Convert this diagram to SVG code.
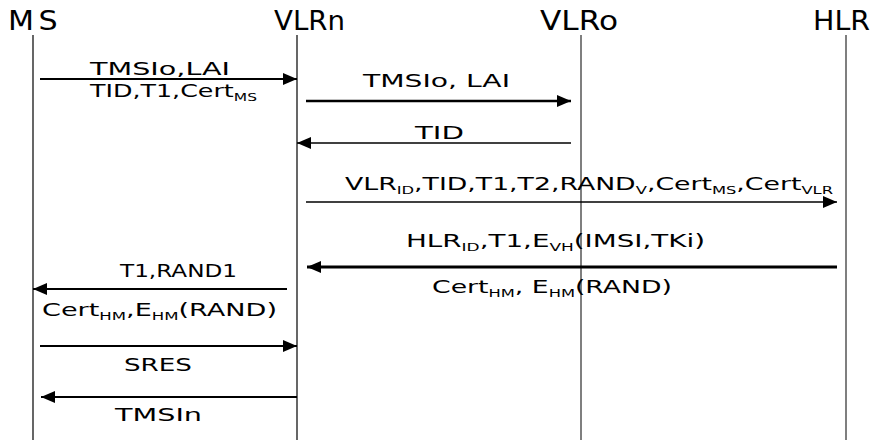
<svg xmlns="http://www.w3.org/2000/svg" width="885" height="440" viewBox="0 0 885 440">
<style>
.hdr{font-family:"DejaVu Sans","Liberation Sans",sans-serif;font-size:27px;fill:#000}
.lbl{font-family:"DejaVu Sans","Liberation Sans",sans-serif;font-size:18px;fill:#000}
.sub{font-size:11px}
.life{stroke:#000;stroke-width:1.2}
.life2{stroke:#555;stroke-width:1.5}
.msg{stroke:#000;stroke-width:2;fill:none;marker-end:url(#ah)}
</style>
<defs>
<marker id="ah" markerUnits="userSpaceOnUse" markerWidth="14" markerHeight="12" refX="14" refY="6" orient="auto">
<path d="M0,0 L14,6 L0,12 z" fill="#000"/>
</marker>
</defs>
<rect width="885" height="440" fill="#fff"/>
<g id="MS">
<text class="hdr" x="8" y="30" textLength="54" lengthAdjust="spacingAndGlyphs" letter-spacing="4">MS</text>
<line class="life" x1="33" y1="35" x2="33" y2="440"/>
</g>
<g id="VLRn">
<text class="hdr" x="274" y="30" textLength="71" lengthAdjust="spacingAndGlyphs">VLRn</text>
<line class="life" x1="297" y1="35" x2="297" y2="440"/>
</g>
<g id="VLRo">
<text class="hdr" x="540" y="30" textLength="78" lengthAdjust="spacingAndGlyphs">VLRo</text>
<line class="life2" x1="581" y1="35" x2="581" y2="440"/>
</g>
<g id="HLR">
<text class="hdr" x="813" y="30" textLength="57" lengthAdjust="spacingAndGlyphs">HLR</text>
<line class="life2" x1="846" y1="35" x2="846" y2="440"/>
</g>
<g id="connectors">
<line class="msg" x1="40" y1="79" x2="297" y2="79"/>
<line class="msg" x1="306" y1="101" x2="571" y2="101" style="stroke-width:2.5"/>
<line class="msg" x1="571" y1="143" x2="297" y2="143" style="stroke-width:1.6"/>
<line class="msg" x1="306" y1="202" x2="837" y2="202" style="stroke-width:1.6"/>
<line class="msg" x1="837" y1="267" x2="307" y2="267" style="stroke-width:3"/>
<line class="msg" x1="287" y1="289" x2="33" y2="289"/>
<line class="msg" x1="40" y1="346" x2="297" y2="346"/>
<line class="msg" x1="297" y1="397" x2="41" y2="397"/>
</g>
<g id="labels">
<text class="lbl" x="90" y="75" textLength="140" lengthAdjust="spacingAndGlyphs">TMSIo,LAI</text>
<text class="lbl" x="90" y="97" textLength="167" lengthAdjust="spacingAndGlyphs">TID,T1,Cert<tspan class="sub" dy="4">MS</tspan></text>
<text class="lbl" x="363" y="87" textLength="147" lengthAdjust="spacingAndGlyphs">TMSIo, LAI</text>
<text class="lbl" x="415" y="139" textLength="49" lengthAdjust="spacingAndGlyphs">TID</text>
<text class="lbl" x="345" y="190" textLength="488" lengthAdjust="spacingAndGlyphs">VLR<tspan class="sub" dy="4">ID</tspan><tspan dy="-4">,TID,T1,T2,RAND</tspan><tspan class="sub" dy="4">V</tspan><tspan dy="-4">,Cert</tspan><tspan class="sub" dy="4">MS</tspan><tspan dy="-4">,Cert</tspan><tspan class="sub" dy="4">VLR</tspan></text>
<text class="lbl" x="406" y="247" textLength="299" lengthAdjust="spacingAndGlyphs">HLR<tspan class="sub" dy="4">ID</tspan><tspan dy="-4">,T1,E</tspan><tspan class="sub" dy="4">VH</tspan><tspan dy="-4">(IMSI,TKi)</tspan></text>
<text class="lbl" x="432" y="293" textLength="240" lengthAdjust="spacingAndGlyphs">Cert<tspan class="sub" dy="4">HM</tspan><tspan dy="-4">, E</tspan><tspan class="sub" dy="4">HM</tspan><tspan dy="-4">(RAND)</tspan></text>
<text class="lbl" x="120" y="277" textLength="117" lengthAdjust="spacingAndGlyphs">T1,RAND1</text>
<text class="lbl" x="42" y="316" textLength="235" lengthAdjust="spacingAndGlyphs">Cert<tspan class="sub" dy="4">HM</tspan><tspan dy="-4">,E</tspan><tspan class="sub" dy="4">HM</tspan><tspan dy="-4">(RAND)</tspan></text>
<text class="lbl" x="124" y="371" textLength="68" lengthAdjust="spacingAndGlyphs">SRES</text>
<text class="lbl" x="115" y="421" textLength="87" lengthAdjust="spacingAndGlyphs">TMSIn</text>
</g>
</svg>
